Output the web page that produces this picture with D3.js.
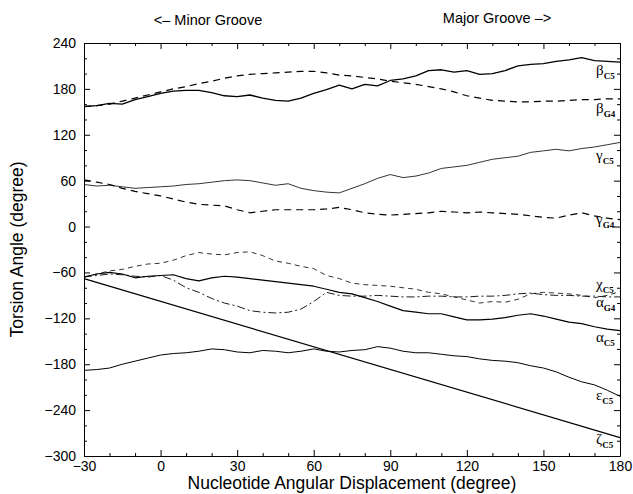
<!doctype html>
<html lang="en">
<head>
  <meta charset="utf-8">
  <title>Torsion angles</title>
  <style>
    body { margin: 0; background: #fff; }
    svg { font-family: "Liberation Sans", Arial, sans-serif; }
    .axis text { fill: #000; }
    .axis path, .axis line { stroke: #000; }
    .curve { fill: none; stroke: #000; stroke-linejoin: round; }
    .lbl { font-family: "Liberation Serif", "DejaVu Serif", serif; font-size: 15px; }
  </style>
</head>
<body>
  <div id="chart"></div>
  <script src="https://cdn.jsdelivr.net/npm/d3@7"></script>
  <script>
// displacement angle, every 5 degrees
var angles = [-30, -25, -20, -15, -10, -5, 0, 5, 10, 15, 20, 25, 30, 35, 40, 45, 50, 55, 60, 65, 70,
  75, 80, 85, 90, 95, 100, 105, 110, 115, 120, 125, 130, 135, 140, 145, 150, 155, 160, 165, 170, 175, 180];

var betaC5 = [157, 158, 161, 160, 166, 170, 174, 177, 178, 178, 175, 171, 170, 172, 168, 165, 164, 168, 174, 179, 185,
  180, 186, 184, 191, 193, 197, 204, 205, 202, 204, 199, 200, 204, 210, 212, 213, 216, 218, 221, 217, 216, 215];
var betaG4 = [157, 158, 160, 164, 168, 172, 176, 180, 183, 187, 190, 194, 197, 199, 200, 201, 202, 203, 203, 201, 198,
  197, 195, 193, 190, 188, 186, 183, 180, 176, 171, 168, 165, 164, 163, 163, 164, 164, 165, 166, 166, 167, 167];
var gammaC5 = [55, 53, 54, 52, 50, 51, 52, 53, 55, 56, 58, 60, 61, 60, 57, 54, 56, 50, 47, 45, 44,
  50, 56, 63, 68, 64, 66, 70, 76, 78, 80, 84, 88, 90, 92, 97, 99, 101, 99, 102, 104, 107, 110];
var gammaG4 = [61, 58, 55, 50, 46, 43, 40, 36, 32, 29, 28, 27, 22, 18, 20, 22, 22, 22, 22, 23, 25,
  22, 18, 16, 15, 16, 17, 18, 20, 19, 18, 19, 18, 17, 16, 14, 12, 11, 15, 18, 14, 11, 9];
var chiC5 = [-66, -62, -58, -56, -52, -49, -48, -44, -38, -34, -36, -37, -34, -33, -38, -45, -48, -52, -55, -64, -68,
  -74, -76, -77, -78, -80, -82, -86, -88, -92, -96, -100, -98, -99, -95, -88, -86, -87, -88, -90, -93, -90, -85];
var alphaG4 = [-66, -64, -62, -63, -65, -66, -64, -70, -80, -86, -94, -100, -104, -110, -112, -113, -112, -108, -98, -86, -90,
  -91, -91, -90, -91, -92, -92, -91, -91, -92, -92, -91, -91, -90, -88, -87, -89, -90, -90, -91, -91, -92, -92];
var alphaC5 = [-66, -62, -60, -62, -67, -65, -64, -63, -68, -71, -67, -65, -66, -68, -70, -72, -74, -76, -78, -82, -86,
  -88, -93, -98, -104, -110, -112, -114, -114, -118, -122, -122, -121, -119, -116, -114, -117, -121, -125, -127, -131, -134, -136];
var epsC5 = [-188, -187, -185, -180, -176, -172, -168, -166, -165, -163, -160, -161, -164, -165, -162, -163, -165, -163, -160, -163, -164,
  -162, -161, -157, -159, -163, -165, -165, -167, -169, -170, -173, -175, -176, -178, -182, -185, -190, -197, -203, -207, -214, -222];
var zetaX = [-30, 180];
var zetaC5 = [-68, -276];

var xTicks = [-30, 0, 30, 60, 90, 120, 150, 180];
var yTicks = [-300, -240, -180, -120, -60, 0, 60, 120, 180, 240];

var width = 633, height = 494;
var margin = {top: 43, right: 13, bottom: 38, left: 84};

var svg = d3.select('#chart').append('svg')
    .attr('width', width)
    .attr('height', height);

var x = d3.scaleLinear().domain([-30, 180]).range([margin.left, width - margin.right]);
var y = d3.scaleLinear().domain([-300, 240]).range([height - margin.bottom, margin.top]);

var minorX = d3.range(-30, 181, 10).filter(function(v) { return xTicks.indexOf(v) < 0; });
var minorY = d3.range(-300, 241, 20).filter(function(v) { return yTicks.indexOf(v) < 0; });

// axes, ticks pointing inward on all four sides
svg.append('g').attr('class', 'axis')
    .attr('transform', 'translate(0,' + y(-300) + ')')
    .call(d3.axisBottom(x).tickValues(xTicks).tickSize(-6).tickSizeOuter(0).tickPadding(5));
svg.append('g').attr('class', 'axis')
    .attr('transform', 'translate(0,' + y(-300) + ')')
    .call(d3.axisBottom(x).tickValues(minorX).tickSize(-3).tickFormat('')).select('.domain').remove();
svg.append('g').attr('class', 'axis')
    .attr('transform', 'translate(0,' + y(240) + ')')
    .call(d3.axisTop(x).tickValues(xTicks).tickSize(-6).tickSizeOuter(0).tickFormat(''));
svg.append('g').attr('class', 'axis')
    .attr('transform', 'translate(0,' + y(240) + ')')
    .call(d3.axisTop(x).tickValues(minorX).tickSize(-3).tickFormat('')).select('.domain').remove();

svg.append('g').attr('class', 'axis')
    .attr('transform', 'translate(' + x(-30) + ',0)')
    .call(d3.axisLeft(y).tickValues(yTicks).tickSize(-6).tickSizeOuter(0).tickPadding(8));
svg.append('g').attr('class', 'axis')
    .attr('transform', 'translate(' + x(-30) + ',0)')
    .call(d3.axisLeft(y).tickValues(minorY).tickSize(-3).tickFormat('')).select('.domain').remove();
svg.append('g').attr('class', 'axis')
    .attr('transform', 'translate(' + x(180) + ',0)')
    .call(d3.axisRight(y).tickValues(yTicks).tickSize(-6).tickSizeOuter(0).tickFormat(''));
svg.append('g').attr('class', 'axis')
    .attr('transform', 'translate(' + x(180) + ',0)')
    .call(d3.axisRight(y).tickValues(minorY).tickSize(-3).tickFormat('')).select('.domain').remove();

svg.selectAll('.axis text')
    .style('font-size', '14px')
    .style('font-family', '"Liberation Sans", Arial, sans-serif');

// curves
var series = [
  {xs: angles, ys: betaC5, w: 1.3, dash: null},
  {xs: angles, ys: betaG4, w: 1.2, dash: '7,5'},
  {xs: angles, ys: gammaC5, w: 0.8, dash: null},
  {xs: angles, ys: gammaG4, w: 1.2, dash: '7,5'},
  {xs: angles, ys: chiC5, w: 0.8, dash: '5,4'},
  {xs: angles, ys: alphaG4, w: 0.9, dash: '8,3,2,3'},
  {xs: angles, ys: alphaC5, w: 1.2, dash: null},
  {xs: angles, ys: epsC5, w: 1.0, dash: null},
  {xs: zetaX, ys: zetaC5, w: 1.2, dash: null}
];

var line = d3.line()
    .x(function(d) { return x(d[0]); })
    .y(function(d) { return y(d[1]); });

svg.append('g').selectAll('path')
    .data(series)
  .enter().append('path')
    .attr('class', 'curve')
    .attr('d', function(s) { return line(d3.zip(s.xs, s.ys)); })
    .attr('stroke-width', function(s) { return s.w; })
    .attr('stroke-dasharray', function(s) { return s.dash; });

// curve labels
var labels = [
  {g: 'β', sub: 'C5', py: 75},
  {g: 'β', sub: 'G4', py: 113},
  {g: 'γ', sub: 'C5', py: 160},
  {g: 'γ', sub: 'G4', py: 224},
  {g: 'χ', sub: 'C5', py: 289},
  {g: 'α', sub: 'G4', py: 307},
  {g: 'α', sub: 'C5', py: 342},
  {g: 'ε', sub: 'C5', py: 400},
  {g: 'ζ', sub: 'C5', py: 444}
];

var lbl = svg.append('g').selectAll('text')
    .data(labels)
  .enter().append('text')
    .attr('class', 'lbl')
    .attr('x', 596)
    .attr('y', function(d) { return d.py; });
lbl.append('tspan').text(function(d) { return d.g; });
lbl.append('tspan')
    .attr('dy', 4)
    .style('font-size', '9px')
    .style('font-weight', 'bold')
    .text(function(d) { return d.sub; });

// titles
svg.append('text')
    .attr('x', 208).attr('y', 25)
    .attr('text-anchor', 'middle')
    .style('font-size', '14.5px')
    .text('<– Minor Groove');
svg.append('text')
    .attr('x', 497).attr('y', 23)
    .attr('text-anchor', 'middle')
    .style('font-size', '14.5px')
    .text('Major Groove –>');

svg.append('text')
    .attr('x', 352).attr('y', 489)
    .attr('text-anchor', 'middle')
    .style('font-size', '17.5px')
    .text('Nucleotide Angular Displacement (degree)');
svg.append('text')
    .attr('transform', 'translate(23,' + ((margin.top + height - margin.bottom) / 2) + ') rotate(-90)')
    .attr('text-anchor', 'middle')
    .style('font-size', '17.5px')
    .text('Torsion Angle  (degree)');
  </script>
</body>
</html>
